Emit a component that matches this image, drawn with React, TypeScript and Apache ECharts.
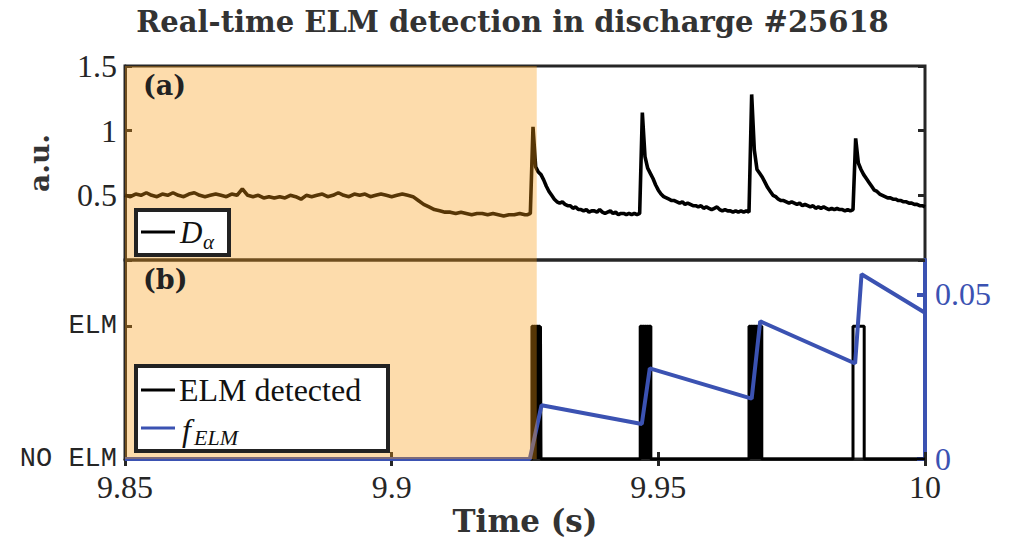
import React, { useEffect, useRef } from "react";
import * as echarts from "echarts";

// ---------- data ----------
const xTickLabels = ["9.85", "9.9", "9.95", "10"];
const yTickLabelsA = ["", "0.5", "1", "1.5"];
const yTickLabelsB = ["NO ELM", "ELM"];
const yTickLabelsF = ["0", "0.05"];

// D_alpha, first part: 1 ms sampling from 9.850 s
const dAlphaStartA = 9.85;
const dAlphaStepA = 0.001;
const dAlphaA = [
  0.5, 0.49, 0.51, 0.5, 0.52, 0.5, 0.49, 0.51, 0.5, 0.52,
  0.5, 0.49, 0.51, 0.52, 0.5, 0.49, 0.5, 0.51, 0.5, 0.49,
  0.51, 0.5, 0.55, 0.5, 0.49, 0.5, 0.48, 0.49, 0.48, 0.49,
  0.48, 0.5, 0.49, 0.47, 0.5, 0.49, 0.5, 0.51, 0.49, 0.5,
  0.52, 0.5, 0.49, 0.51, 0.5, 0.51, 0.49, 0.5, 0.51, 0.5,
  0.49, 0.5, 0.51, 0.5, 0.49, 0.46, 0.43, 0.41, 0.39, 0.38,
  0.37, 0.37, 0.36, 0.37, 0.36, 0.35, 0.36, 0.36, 0.35, 0.36,
  0.35, 0.34, 0.35, 0.35, 0.36, 0.35,
];
// D_alpha, second part: 0.5 ms sampling from 9.9255 s
const dAlphaStartB = 9.9255;
const dAlphaStepB = 0.0005;
const dAlphaB = [
  0.35, 0.36, 1.03, 0.72, 0.68, 0.66, 0.62, 0.57, 0.53, 0.5,
  0.47, 0.45, 0.44, 0.45, 0.43, 0.42, 0.42, 0.4, 0.41, 0.39,
  0.39, 0.38, 0.39, 0.37, 0.38, 0.38, 0.37, 0.39, 0.37, 0.36,
  0.37, 0.38, 0.36, 0.37, 0.35, 0.36, 0.36, 0.35, 0.36, 0.35,
  0.36, 0.35, 0.36, 1.14, 0.8, 0.71, 0.67, 0.63, 0.58, 0.54,
  0.51, 0.49, 0.48, 0.47, 0.46, 0.46, 0.45, 0.44, 0.45, 0.43,
  0.44, 0.43, 0.42, 0.42, 0.41, 0.42, 0.4, 0.41, 0.4, 0.39,
  0.4, 0.41, 0.39, 0.38, 0.39, 0.38, 0.38, 0.37, 0.38, 0.37,
  0.38, 0.37, 0.38, 0.37, 1.28, 0.85, 0.7, 0.67, 0.64, 0.6,
  0.56, 0.53, 0.5, 0.49, 0.47, 0.46, 0.46, 0.45, 0.44, 0.45,
  0.44, 0.43, 0.44, 0.42, 0.43, 0.42, 0.41, 0.42, 0.4, 0.41,
  0.4, 0.41, 0.4, 0.39, 0.4, 0.39, 0.4, 0.39, 0.39, 0.38,
  0.39, 0.38, 0.39, 0.94, 0.75, 0.7, 0.66, 0.63, 0.6, 0.57,
  0.54, 0.53, 0.51, 0.5, 0.49, 0.48, 0.48, 0.47, 0.47, 0.46,
  0.46, 0.45, 0.45, 0.44, 0.44, 0.43, 0.43, 0.42, 0.42, 0.41,
];

// ELM detected (binary) signal: times and states
const elmTimes = [
  9.85, 9.9263,
  9.9263, 9.9266, 9.9266, 9.9267, 9.9267, 9.927, 9.927, 9.9271, 9.9271, 9.9274, 9.9274, 9.9275, 9.9275, 9.9278, 9.9278, 9.9279, 9.9279, 9.928, 9.928,
  9.9466, 9.9466, 9.9469, 9.9469, 9.947, 9.947, 9.9473, 9.9473, 9.9474, 9.9474, 9.9477, 9.9477, 9.9478, 9.9478, 9.9481, 9.9481, 9.9482, 9.9482, 9.9486, 9.9486,
  9.967, 9.967, 9.9673, 9.9673, 9.9674, 9.9674, 9.9677, 9.9677, 9.9678, 9.9678, 9.9681, 9.9681, 9.9682, 9.9682, 9.9685, 9.9685, 9.9686, 9.9686, 9.9689, 9.9689, 9.969, 9.969, 9.9694, 9.9694,
  9.9865, 9.9865, 9.9886, 9.9886, 10.0,
];
const elmStates = [
  0, 0,
  1, 1, 0, 0, 1, 1, 0, 0, 1, 1, 0, 0, 1, 1, 0, 0, 1, 1, 0,
  0, 1, 1, 0, 0, 1, 1, 0, 0, 1, 1, 0, 0, 1, 1, 0, 0, 1, 1, 0,
  0, 1, 1, 0, 0, 1, 1, 0, 0, 1, 1, 0, 0, 1, 1, 0, 0, 1, 1, 0, 0, 1, 1, 0,
  0, 1, 1, 0, 0,
];

// f_ELM (right axis)
const fElmTimes = [9.85, 9.9259, 9.9281, 9.9469, 9.9484, 9.9675, 9.9691, 9.9869, 9.9881, 10.0];
const fElmValues = [0, 0, 0.0163, 0.0106, 0.0275, 0.0183, 0.0418, 0.029, 0.0561, 0.0444];

// shaded interval (before detection)
const shadeStart = 9.85;
const shadeEnd = 9.9272;

// ---------- styles ----------
const AX = "#262626";
const BLUE = "#3b52b2";
const SHADE = "rgba(249,154,17,0.35)";
const SERIF = "Liberation Serif";
const BOLD_SERIF = "DejaVu Serif";

export default function App() {
  const ref = useRef<HTMLDivElement>(null);

  useEffect(() => {
    if (!ref.current) return;
    const chart = echarts.init(ref.current, undefined, { renderer: "svg" });

    const dAlpha: number[][] = [
      ...dAlphaA.map((v, i) => [+(dAlphaStartA + dAlphaStepA * i).toFixed(4), v]),
      ...dAlphaB.map((v, i) => [+(dAlphaStartB + dAlphaStepB * i).toFixed(4), v]),
    ];
    const elm = elmTimes.map((t, i) => [t, elmStates[i]]);
    const fElm = fElmTimes.map((t, i) => [t, fElmValues[i]]);

    const pick = (labels: string[], v: number, step: number, base = 0) => {
      const k = Math.round((v - base) / step);
      return Math.abs(v - base - k * step) < step * 1e-3 ? labels[k] ?? "" : "";
    };
    const xFmt = (v: number) => pick(xTickLabels, v, 0.05, 9.85);
    const tickStyle = { inside: true, length: 7, lineStyle: { color: AX, width: 3 } };

    chart.setOption({
      animation: false,
      backgroundColor: "#fff",
      title: {
        text: "Real-time ELM detection in discharge #25618",
        left: "center",
        top: 2,
        textStyle: { fontFamily: BOLD_SERIF, fontWeight: "bold", fontSize: 29, color: "#333" },
      },
      grid: [
        { left: 125, top: 66, width: 800, height: 194, show: true, borderColor: AX, borderWidth: 3, backgroundColor: "transparent" },
        { left: 125, top: 260, width: 800, height: 199, show: true, borderColor: AX, borderWidth: 3, backgroundColor: "transparent" },
      ],
      xAxis: [
        {
          gridIndex: 0, type: "value", min: 9.85, max: 10, interval: 0.05,
          axisLine: { show: false }, axisTick: { show: false }, axisLabel: { show: false }, splitLine: { show: false },
        },
        {
          gridIndex: 1, type: "value", min: 9.85, max: 10, interval: 0.05, position: "bottom",
          axisLine: { show: true, lineStyle: { color: AX, width: 3 } },
          axisTick: tickStyle,
          axisLabel: { fontFamily: SERIF, fontSize: 32, color: AX, margin: 12, formatter: xFmt },
          splitLine: { show: false },
          name: "Time (s)", nameLocation: "middle", nameGap: 46,
          nameTextStyle: { fontFamily: BOLD_SERIF, fontWeight: "bold", fontSize: 31, color: "#333" },
        },
        {
          gridIndex: 1, type: "value", min: 9.85, max: 10, interval: 0.05, position: "top",
          axisLine: { show: false }, axisTick: tickStyle, axisLabel: { show: false }, splitLine: { show: false },
        },
      ],
      yAxis: [
        {
          gridIndex: 0, type: "value", min: 0, max: 1.5, interval: 0.5, position: "left",
          axisLine: { show: true, lineStyle: { color: AX, width: 3 } },
          axisTick: tickStyle,
          axisLabel: {
            fontFamily: SERIF, fontSize: 32, color: AX, margin: 8,
            formatter: (v: number) => pick(yTickLabelsA, v, 0.5),
          },
          splitLine: { show: false },
          name: "a.u.", nameLocation: "middle", nameGap: 72,
          nameTextStyle: { fontFamily: BOLD_SERIF, fontWeight: "bold", fontSize: 28, color: "#333" },
        },
        {
          gridIndex: 0, type: "value", min: 0, max: 1.5, interval: 0.5, position: "right",
          axisLine: { show: false }, axisTick: tickStyle, axisLabel: { show: false }, splitLine: { show: false },
        },
        {
          gridIndex: 1, type: "value", min: 0, max: 1.5, interval: 1, position: "left",
          axisLine: { show: true, lineStyle: { color: AX, width: 3 } },
          axisTick: tickStyle,
          axisLabel: {
            fontFamily: "Liberation Mono", fontSize: 27, color: AX, margin: 8, showMaxLabel: false,
            formatter: (v: number) => pick(yTickLabelsB, v, 1),
          },
          splitLine: { show: false },
        },
        {
          gridIndex: 1, type: "value", min: 0, max: 0.0604, interval: 0.05, position: "right",
          axisLine: { show: true, lineStyle: { color: BLUE, width: 4 } },
          axisTick: { inside: true, length: 8, lineStyle: { color: BLUE, width: 4 } },
          axisLabel: {
            fontFamily: SERIF, fontSize: 32, color: BLUE, margin: 10, showMaxLabel: false,
            formatter: (v: number) => pick(yTickLabelsF, v, 0.05),
          },
          splitLine: { show: false },
        },
      ],
      series: [
        {
          name: "D_alpha", type: "line", xAxisIndex: 0, yAxisIndex: 0, data: dAlpha,
          showSymbol: false, symbol: "none", lineStyle: { color: "#000", width: 3.6 }, z: 2,
        },
        {
          name: "ELM detected", type: "line", xAxisIndex: 1, yAxisIndex: 2, data: elm,
          showSymbol: false, symbol: "none", lineStyle: { color: "#000", width: 3 }, z: 2,
        },
        {
          name: "f_ELM", type: "line", xAxisIndex: 1, yAxisIndex: 3, data: fElm,
          showSymbol: false, symbol: "none", lineStyle: { color: BLUE, width: 4 }, z: 3,
        },
        {
          name: "shadeA", type: "line", xAxisIndex: 0, yAxisIndex: 0, data: [[shadeStart, -1]],
          showSymbol: false, symbol: "none", lineStyle: { opacity: 0 }, z: 10, silent: true,
          markArea: { silent: true, z: 10, itemStyle: { color: SHADE }, data: [[{ xAxis: shadeStart }, { xAxis: shadeEnd }]] },
        },
        {
          name: "shadeB", type: "line", xAxisIndex: 1, yAxisIndex: 2, data: [[shadeStart, -1]],
          showSymbol: false, symbol: "none", lineStyle: { opacity: 0 }, z: 10, silent: true,
          markArea: { silent: true, z: 10, itemStyle: { color: SHADE }, data: [[{ xAxis: shadeStart }, { xAxis: shadeEnd }]] },
        },
      ],
      graphic: [
        { type: "text", left: 143, top: 72, z: 100, style: { text: "(a)", fontFamily: BOLD_SERIF, fontWeight: "bold", fontSize: 27, fill: "#222" } },
        { type: "text", left: 143, top: 266, z: 100, style: { text: "(b)", fontFamily: BOLD_SERIF, fontWeight: "bold", fontSize: 27, fill: "#222" } },
        // legend (a)
        { type: "rect", z: 100, shape: { x: 136, y: 210, width: 93, height: 45 }, style: { fill: "#fff", stroke: "#222", lineWidth: 4 } },
        { type: "line", z: 101, shape: { x1: 141, y1: 232, x2: 175, y2: 232 }, style: { stroke: "#000", lineWidth: 3 } },
        { type: "text", z: 101, x: 180, y: 232, style: { text: "D", fontFamily: SERIF, fontStyle: "italic", fontSize: 31, fill: "#111", verticalAlign: "middle" } },
        { type: "text", z: 101, x: 203, y: 242, style: { text: "α", fontFamily: SERIF, fontStyle: "italic", fontSize: 21, fill: "#111", verticalAlign: "middle" } },
        // legend (b)
        { type: "rect", z: 100, shape: { x: 136, y: 366, width: 252, height: 85 }, style: { fill: "#fff", stroke: "#222", lineWidth: 4 } },
        { type: "line", z: 101, shape: { x1: 141, y1: 390, x2: 175, y2: 390 }, style: { stroke: "#000", lineWidth: 3 } },
        { type: "text", z: 101, x: 179, y: 390, style: { text: "ELM detected", fontFamily: SERIF, fontSize: 32, fill: "#111", verticalAlign: "middle" } },
        { type: "line", z: 101, shape: { x1: 141, y1: 428, x2: 175, y2: 428 }, style: { stroke: BLUE, lineWidth: 3 } },
        { type: "text", z: 101, x: 182, y: 430, style: { text: "f", fontFamily: SERIF, fontStyle: "italic", fontSize: 32, fill: "#111", verticalAlign: "middle" } },
        { type: "text", z: 101, x: 194, y: 437, style: { text: "ELM", fontFamily: SERIF, fontStyle: "italic", fontSize: 22, fill: "#111", verticalAlign: "middle" } },
      ],
    });

    return () => chart.dispose();
  }, []);

  return <div ref={ref} style={{ width: 1025, height: 549, margin: -8 }} />;
}
